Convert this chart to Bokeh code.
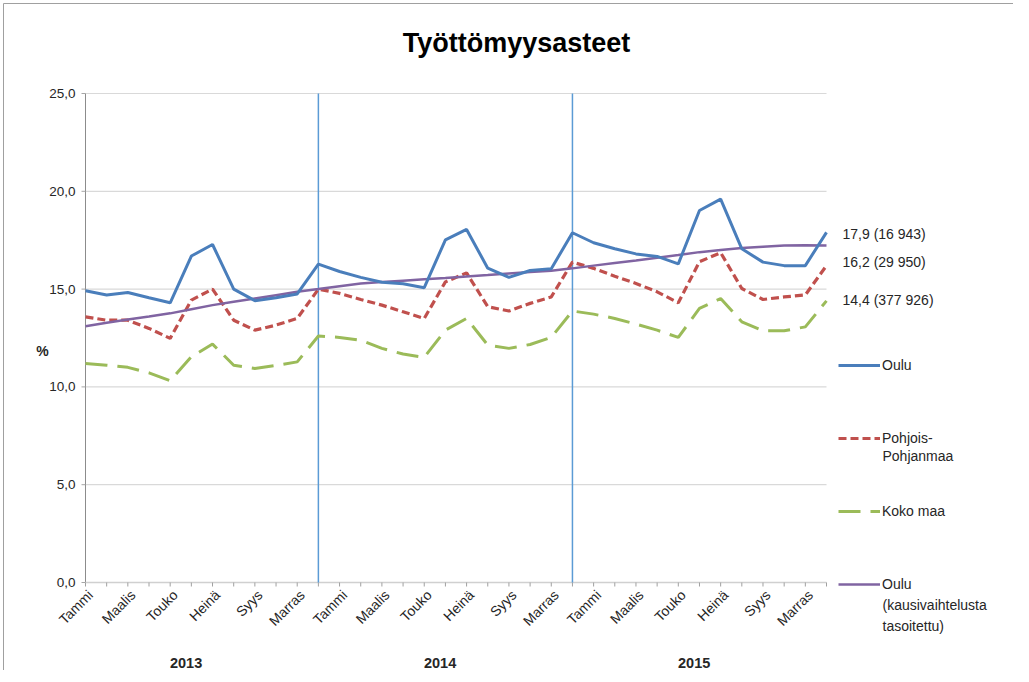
from math import pi
from bokeh.plotting import figure
from bokeh.models import Range1d, Legend, LegendItem
from bokeh.core.properties import value
from bokeh.embed import file_html
from bokeh.resources import INLINE

# ---------------- data ----------------
month_names = ["Tammi", "", "Maalis", "", "Touko", "", "Heinä", "", "Syys", "", "Marras", ""]
years = ["2013", "2014", "2015"]
months = list(range(36))
month_labels = month_names * 3

oulu = [14.92, 14.70, 14.83, 14.56, 14.30, 16.69, 17.28, 15.00, 14.41, 14.56, 14.75, 16.28,
        15.90, 15.60, 15.35, 15.27, 15.07, 17.52, 18.05, 16.07, 15.60, 15.95, 16.04, 17.88,
        17.37, 17.06, 16.80, 16.67, 16.29, 19.02, 19.60, 17.06, 16.38, 16.20, 16.20, 17.90]
pohjois = [13.58, 13.41, 13.41, 12.99, 12.48, 14.44, 15.00, 13.41, 12.90, 13.16, 13.50, 15.00,
           14.78, 14.47, 14.18, 13.84, 13.50, 15.37, 15.83, 14.10, 13.88, 14.27, 14.60, 16.38,
           16.06, 15.66, 15.29, 14.86, 14.30, 16.40, 16.86, 15.03, 14.47, 14.60, 14.70, 16.20]
koko = [11.20, 11.11, 11.00, 10.72, 10.31, 11.54, 12.19, 11.11, 10.94, 11.10, 11.28, 12.60,
        12.53, 12.39, 11.97, 11.68, 11.51, 12.90, 13.50, 12.14, 11.97, 12.17, 12.53, 13.88,
        13.72, 13.50, 13.21, 12.90, 12.53, 14.01, 14.52, 13.33, 12.87, 12.87, 13.07, 14.40]
trend = [13.10, 13.28, 13.45, 13.60, 13.76, 13.97, 14.18, 14.35, 14.52, 14.69, 14.86, 15.00,
         15.15, 15.29, 15.36, 15.43, 15.50, 15.57, 15.65, 15.72, 15.80, 15.87, 15.94, 16.06,
         16.20, 16.33, 16.46, 16.60, 16.74, 16.89, 17.00, 17.10, 17.17, 17.23, 17.24, 17.23]
year_breaks = [11, 23]
end_labels = ["17,9 (16 943)", "16,2 (29 950)", "14,4 (377 926)"]
y_ticks = [0, 5, 10, 15, 20, 25]
y_tick_labels = ["0,0", "5,0", "10,0", "15,0", "20,0", "25,0"]
legend_extra = ["Pohjanmaa", "(kausivaihtelusta", "tasoitettu)"]

# ---------------- layout (pixels) ----------------
W, H = 1013, 670
PX_L, PX_R = 85, 826      # x pixel of first / last month
PY_B, PY_T = 582, 93      # y pixel of 0 and 25
X0, X1 = months[0], months[-1]
Y0, Y1 = y_ticks[0], y_ticks[-1]
sx = (PX_R - PX_L) / (X1 - X0)
sy = (PY_B - PY_T) / (Y1 - Y0)


def dx(px):
    return X0 + (px - PX_L) / sx


def dy(py):
    return Y0 + (PY_B - py) / sy


FONT = "Liberation Sans"
TXT = "#262626"

p = figure(width=W, height=H, output_backend="svg", toolbar_location=None,
           x_range=Range1d(dx(0), dx(W)), y_range=Range1d(dy(H), dy(0)),
           min_border=0)
p.min_border_left = p.min_border_right = p.min_border_top = p.min_border_bottom = 0
p.axis.visible = False
p.grid.visible = False
p.outline_line_color = None
p.background_fill_color = "white"
p.border_fill_color = "white"

# chart-area border (top and left edges visible in the reference)
p.segment(x0=[dx(3), dx(3)], x1=[dx(W), dx(3)], y0=[dy(3), dy(3)], y1=[dy(3), dy(H)],
          line_color="#a0a0a0", line_width=1)

# gridlines
gl = [t for t in y_ticks if t != Y0]
p.segment(x0=[X0] * len(gl), x1=[X1] * len(gl), y0=gl, y1=gl, line_color="#d9d9d9", line_width=1.2)
# y axis line and ticks
p.segment(x0=[X0], x1=[X0], y0=[Y0], y1=[Y1], line_color="#8c8c8c", line_width=1)
p.segment(x0=[dx(PX_L - 4)] * len(y_ticks), x1=[X0] * len(y_ticks), y0=y_ticks, y1=y_ticks,
          line_color="#a6a6a6", line_width=1)
p.text(x=[dx(75)] * len(y_ticks), y=y_ticks, text=y_tick_labels, text_font=value(FONT),
       text_font_size="13.5px", text_color=TXT, text_align="right", text_baseline="middle")

# x axis line and ticks
p.segment(x0=[X0], x1=[X1], y0=[Y0], y1=[Y0], line_color="#d0d0d0", line_width=1.5)
p.segment(x0=months, x1=months, y0=[Y0] * len(months), y1=[dy(PY_B + 4)] * len(months),
          line_color="#a0a0a0", line_width=1)
lab_x = [m + 5 / sx for m, l in zip(months, month_labels) if l]
lab_t = [l for l in month_labels if l]
p.text(x=lab_x, y=[dy(PY_B + 10)] * len(lab_x), text=lab_t, angle=pi / 4,
       text_font=value(FONT), text_font_size="14px", text_color=TXT,
       text_align="right", text_baseline="middle")

# year labels
p.text(x=[12 * k + 4.75 for k in range(len(years))], y=[dy(662)] * len(years), text=years,
       text_font=value(FONT), text_font_size="14.5px", text_font_style="bold",
       text_color=TXT, text_align="center", text_baseline="middle")

# year separators
p.segment(x0=year_breaks, x1=year_breaks, y0=[Y0] * len(year_breaks), y1=[Y1] * len(year_breaks),
          line_color="#5b9bd5", line_width=1.5)

# series
r_koko = p.line(months, koko, line_color="#9bbb59", line_width=3, line_dash="22 10")
r_pp = p.line(months, pohjois, line_color="#c0504d", line_width=3.2, line_dash="8 4")
r_trend = p.line(months, trend, line_color="#8064a2", line_width=2.5)
r_oulu = p.line(months, oulu, line_color="#4a7ebb", line_width=3)

# title and y label
p.text(x=[dx(516)], y=[dy(42)], text=["Työttömyysasteet"], text_font=value(FONT),
       text_font_size="27px", text_font_style="bold", text_color="black",
       text_align="center", text_baseline="middle")
p.text(x=[dx(42)], y=[dy(350)], text=["%"], text_font=value(FONT), text_font_size="14px",
       text_font_style="bold", text_color=TXT, text_align="center", text_baseline="middle")

# end value labels
end_vals = [oulu[-1], pohjois[-1], koko[-1]]
end_offsets = [-0.1, 0.16, 0.02]
p.text(x=[dx(842)] * 3, y=[v + o for v, o in zip(end_vals, end_offsets)], text=end_labels,
       text_font=value(FONT), text_font_size="14px", text_color=TXT,
       text_align="left", text_baseline="middle")

# legend
legend = Legend(items=[LegendItem(label="Oulu", renderers=[r_oulu]),
                       LegendItem(label="Pohjois-", renderers=[r_pp]),
                       LegendItem(label="Koko maa", renderers=[r_koko]),
                       LegendItem(label="Oulu", renderers=[r_trend])],
                location=(838, H - 594), orientation="vertical",
                glyph_width=42, glyph_height=20, label_height=20, label_standoff=2,
                spacing=53, padding=0, margin=0,
                border_line_color=None, background_fill_alpha=0,
                label_text_font=FONT, label_text_font_size="14px", label_text_color=TXT)
p.add_layout(legend, "center")

p.text(x=[dx(882)] * 3, y=[dy(455), dy(604), dy(625)], text=legend_extra,
       text_font=value(FONT), text_font_size="14px", text_color=TXT,
       text_align="left", text_baseline="middle")

open("out.html", "w").write(file_html(p, INLINE))
